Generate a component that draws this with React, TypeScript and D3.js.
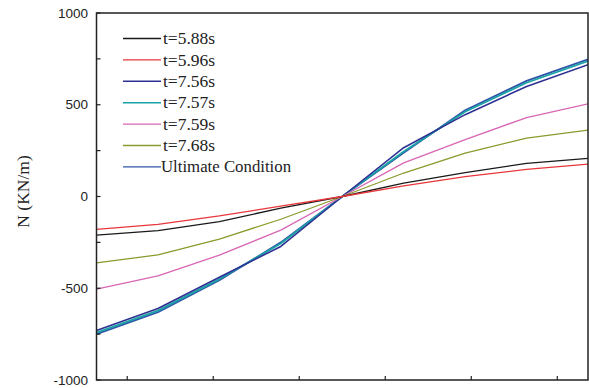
import React from "react";
import * as d3 from "d3";

// Sampling positions along the section (index units) and their N values (KN/m)
const positions = [0, 1, 2, 3, 4, 5, 6, 7, 8];
const xTickValues = [0.5, 1.9, 3.3, 4.7, 6.1, 7.5];
const yTickValues = [-1000, -750, -500, -250, 0, 250, 500, 750, 1000];
const yLabelValues = [-1000, -500, 0, 500, 1000];

const seriesNames = [
  "t=5.88s",
  "t=5.96s",
  "t=7.56s",
  "t=7.57s",
  "t=7.59s",
  "t=7.68s",
  "Ultimate Condition",
];
const seriesColors = ["#1a1a1a", "#e8363a", "#2e3192", "#1aa3a6", "#d866b4", "#8a9a2c", "#2f55a8"];
const seriesWidths = [1.3, 1.3, 1.6, 1.8, 1.3, 1.3, 1.8];

const t588 = [-210, -186, -137, -63, 0, 73, 130, 181, 208];
const t596 = [-179, -152, -106, -52, 0, 58, 108, 148, 176];
const t756 = [-730, -610, -440, -272, 0, 266, 446, 600, 718];
const t757 = [-742, -622, -450, -256, 0, 245, 462, 620, 738];
const t759 = [-505, -433, -320, -183, 0, 183, 310, 430, 505];
const t768 = [-362, -318, -232, -124, 0, 128, 237, 318, 362];
const ultimate = [-750, -630, -456, -250, 0, 238, 470, 630, 748];

const seriesValues = [t588, t596, t756, t757, t759, t768, ultimate];
// draw order: the ultimate envelope sits under the time histories near the ends
const drawOrder = [6, 3, 2, 4, 5, 0, 1];

export default function App() {
  const W = 589;
  const H = 388;
  const left = 96.5;
  const right = 588;
  const top = 13;
  const bottom = 380;

  const x = d3.scaleLinear().domain([0, 8]).range([left, right]);
  const y = d3.scaleLinear().domain([-1000, 1000]).range([bottom, top]);

  const line = d3
    .line<number>()
    .x((_, i) => x(positions[i]))
    .y((d) => y(d));

  const legendX0 = 123;
  const legendX1 = 161;
  const legendY0 = 38.5;
  const legendStep = 21.4;

  return (
    <svg
      width={W}
      height={H}
      style={{ position: "absolute", left: 0, top: 0, background: "#fff" }}
    >
      <rect x={0} y={0} width={W} height={H} fill="#fff" />
      <defs>
        <clipPath id="plot">
          <rect x={left} y={top} width={right - left} height={bottom - top} />
        </clipPath>
      </defs>

      {/* data lines */}
      <g clipPath="url(#plot)">
        {drawOrder.map((k) => (
          <path
            key={seriesNames[k]}
            d={line(seriesValues[k]) || ""}
            fill="none"
            stroke={seriesColors[k]}
            strokeWidth={seriesWidths[k]}
            strokeLinejoin="round"
          />
        ))}
      </g>

      {/* frame */}
      <rect
        x={left}
        y={top}
        width={right - left}
        height={bottom - top}
        fill="none"
        stroke="#222"
        strokeWidth={1.5}
      />

      {/* y ticks (inward) */}
      {yTickValues.map((v) => (
        <line
          key={"yt" + v}
          x1={left}
          x2={left + 4}
          y1={y(v)}
          y2={y(v)}
          stroke="#222"
          strokeWidth={1.2}
        />
      ))}
      {yLabelValues.map((v) => (
        <text
          key={"yl" + v}
          x={left - 8.5}
          y={y(v)}
          dy="0.35em"
          textAnchor="end"
          fontFamily="'Liberation Sans', Arial, sans-serif"
          fontSize={13.5}
          fill="#222"
        >
          {v}
        </text>
      ))}

      {/* x ticks (inward) */}
      {xTickValues.map((v) => (
        <line
          key={"xt" + v}
          x1={x(v)}
          x2={x(v)}
          y1={bottom}
          y2={bottom - 4}
          stroke="#222"
          strokeWidth={1.2}
        />
      ))}

      {/* y axis title */}
      <text
        transform={`translate(29, ${y(0) - 5}) rotate(-90)`}
        textAnchor="middle"
        fontFamily="'Liberation Serif', 'Times New Roman', serif"
        fontSize={17.5}
        fill="#222"
      >
        N (KN/m)
      </text>

      {/* legend */}
      {seriesNames.map((name, k) => (
        <g key={"lg" + name}>
          <line
            x1={legendX0}
            x2={legendX1}
            y1={legendY0 + k * legendStep}
            y2={legendY0 + k * legendStep}
            stroke={seriesColors[k]}
            strokeWidth={1.4}
          />
          <text
            x={k === 6 ? legendX1 : legendX1 + 2}
            y={legendY0 + k * legendStep}
            dy="0.33em"
            fontFamily="'Liberation Serif', 'Times New Roman', serif"
            fontSize={k === 6 ? 16.8 : 17.5}
            fill="#222"
          >
            {name}
          </text>
        </g>
      ))}
    </svg>
  );
}
